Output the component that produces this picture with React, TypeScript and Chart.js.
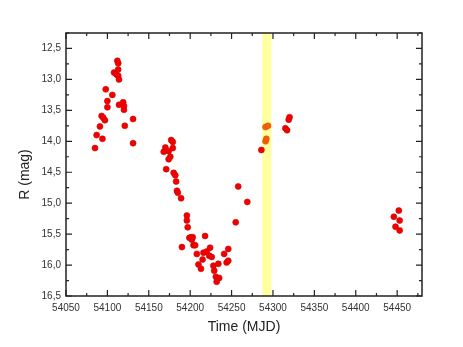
import React, { useEffect, useRef } from "react";
import { Chart, registerables } from "chart.js";

Chart.register(...registerables);

// Main light curve (red points)
const redTime = [
  54112, 54113, 54113, 54108, 54111, 54113, 54114, 54098, 54106, 54100,
  54100, 54114, 54119, 54120, 54120, 54093, 54095, 54097, 54091, 54121,
  54131, 54087, 54094, 54131, 54085, 54177, 54179, 54170, 54179, 54168,
  54174, 54176, 54174, 54171, 54180, 54182, 54183, 54184, 54185, 54189,
  54196, 54196, 54197, 54199, 54201, 54203, 54202, 54190, 54204, 54206,
  54218, 54208, 54216, 54220, 54224, 54223, 54226, 54215, 54210, 54213,
  54228, 54234, 54229, 54231, 54235, 54232, 54241, 54246, 54244, 54246,
  54255, 54258, 54269, 54286, 54315, 54317, 54319, 54320, 54452, 54446,
  54453, 54448, 54453,
];
const redMag = [
  12.70, 12.74, 12.84, 12.89, 12.92, 12.94, 13.00, 13.16, 13.25, 13.35,
  13.45, 13.41, 13.37, 13.43, 13.49, 13.59, 13.62, 13.66, 13.76, 13.75,
  13.64, 13.90, 13.96, 14.03, 14.11, 13.98, 14.01, 14.10, 14.11, 14.17,
  14.16, 14.25, 14.29, 14.45, 14.51, 14.55, 14.65, 14.80, 14.83, 14.92,
  15.20, 15.28, 15.39, 15.56, 15.55, 15.55, 15.59, 15.71, 15.68, 15.68,
  15.53, 15.82, 15.80, 15.78, 15.72, 15.85, 15.87, 15.91, 15.99, 16.06,
  16.01, 15.98, 16.09, 16.19, 16.21, 16.27, 15.82, 15.74, 15.96, 15.93,
  15.31, 14.73, 14.98, 14.14, 13.79, 13.82, 13.65, 13.61, 15.12, 15.22,
  15.28, 15.38, 15.44,
];

// Points inside the highlighted interval (orange)
const bandTime = [54291, 54292, 54291, 54294];
const bandMag = [14.00, 13.96, 13.77, 13.75];

// Highlighted interval (MJD)
const bandRange = [54287, 54298];

// Axis ranges
const xRange = [54050, 54480];
const yRange = [12.25, 16.5];
const xStep = 25;
const yStep = 0.25;
const xLabelStep = 50;
const yLabelStep = 0.5;

const xTitle = "Time (MJD)";
const yTitle = "R (mag)";

const FONT = "'Liberation Sans', Arial, sans-serif";

const toPoints = (xs: number[], ys: number[]) => xs.map((x, i) => ({ x, y: ys[i] }));

const isMultiple = (v: number, step: number) => {
  const r = Math.abs(v / step - Math.round(v / step));
  return r < 1e-6;
};

const framePlugin = {
  id: "framePlugin",
  beforeDatasetsDraw(chart: any) {
    const { ctx, chartArea, scales } = chart;
    const x0 = scales.x.getPixelForValue(bandRange[0]);
    const x1 = scales.x.getPixelForValue(bandRange[1]);
    ctx.save();
    ctx.fillStyle = "rgb(255,255,160)";
    ctx.fillRect(x0, chartArea.top, x1 - x0, chartArea.bottom - chartArea.top);
    ctx.restore();
  },
  afterDatasetsDraw(chart: any) {
    const { ctx, chartArea, scales } = chart;
    const { left, right, top, bottom } = chartArea;
    ctx.save();
    ctx.strokeStyle = "#222";
    ctx.lineWidth = 1.5;
    ctx.strokeRect(left, top, right - left, bottom - top);
    ctx.lineWidth = 1.2;
    ctx.beginPath();
    scales.x.ticks.forEach((t: any) => {
      const px = scales.x.getPixelForValue(t.value);
      const len = isMultiple(t.value, xLabelStep) ? 6 : 3;
      ctx.moveTo(px, bottom);
      ctx.lineTo(px, bottom - len);
      ctx.moveTo(px, top);
      ctx.lineTo(px, top + len);
    });
    scales.y.ticks.forEach((t: any) => {
      const py = scales.y.getPixelForValue(t.value);
      const len = isMultiple(t.value, yLabelStep) ? 6 : 3;
      ctx.moveTo(left, py);
      ctx.lineTo(left + len, py);
      ctx.moveTo(right, py);
      ctx.lineTo(right - len, py);
    });
    ctx.stroke();

    // y-axis title, placed slightly below the plot centre as in the original
    const cy = (top + bottom) / 2 + 10;
    ctx.translate(25, cy);
    ctx.rotate(-Math.PI / 2);
    ctx.fillStyle = "#222";
    ctx.font = `14px ${FONT}`;
    ctx.textAlign = "center";
    ctx.textBaseline = "middle";
    ctx.fillText(yTitle, 0, 0);
    ctx.restore();
  },
};

export default function App() {
  const ref = useRef<HTMLCanvasElement>(null);

  useEffect(() => {
    if (!ref.current) return;
    const chart = new Chart(ref.current, {
      type: "scatter",
      data: {
        datasets: [
          {
            data: toPoints(redTime, redMag),
            backgroundColor: "rgb(240,0,0)",
            borderColor: "rgb(210,0,0)",
            borderWidth: 0.6,
            pointRadius: 3,
          },
          {
            data: toPoints(bandTime, bandMag),
            backgroundColor: "rgb(245,95,0)",
            borderColor: "rgb(225,80,0)",
            borderWidth: 0.6,
            pointRadius: 3,
          },
        ],
      },
      options: {
        animation: false,
        responsive: true,
        maintainAspectRatio: false,
        layout: { padding: { top: 33, right: 41, left: 0, bottom: 0 } },
        plugins: {
          legend: { display: false },
          tooltip: { enabled: false },
        },
        scales: {
          x: {
            type: "linear",
            min: xRange[0],
            max: xRange[1],
            afterFit: (s: any) => {
              s.height = 51;
            },
            grid: { display: false, drawTicks: false },
            border: { display: false },
            ticks: {
              stepSize: xStep,
              includeBounds: false,
              autoSkip: false,
              maxRotation: 0,
              padding: 6,
              color: "#333",
              font: { family: FONT, size: 10 },
              callback: (v: any) => (isMultiple(Number(v), xLabelStep) ? String(v) : ""),
            },
            title: {
              display: true,
              text: xTitle,
              color: "#222",
              font: { family: FONT, size: 14 },
              padding: { top: 0, bottom: 11 },
            },
          },
          y: {
            type: "linear",
            reverse: true,
            min: yRange[0],
            max: yRange[1],
            afterFit: (s: any) => {
              s.width = 66;
            },
            grid: { display: false, drawTicks: false },
            border: { display: false },
            ticks: {
              stepSize: yStep,
              includeBounds: false,
              autoSkip: false,
              padding: 5,
              color: "#333",
              font: { family: FONT, size: 10 },
              callback: (v: any) =>
                isMultiple(Number(v), yLabelStep) ? Number(v).toFixed(1).replace(".", ",") : "",
            },
            title: { display: false },
          },
        },
      },
      plugins: [framePlugin],
    });
    return () => chart.destroy();
  }, []);

  return (
    <div style={{ position: "absolute", left: 0, top: 0, width: 463, height: 347, background: "#fff" }}>
      <canvas ref={ref} />
    </div>
  );
}
